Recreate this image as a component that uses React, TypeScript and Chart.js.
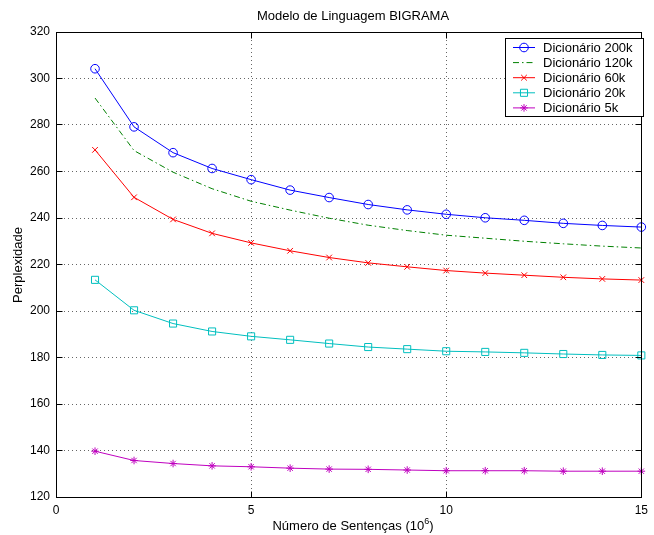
import React, { useEffect, useRef } from 'react';
import { Chart, registerables } from 'chart.js';

Chart.register(...registerables);

// ---- data ----
const sentences = [1, 2, 3, 4, 5, 6, 7, 8, 9, 10, 11, 12, 13, 14, 15];
const ppl200k = [304.2, 279.2, 268.1, 261.3, 256.5, 252.0, 248.8, 245.8, 243.5, 241.6, 240.1, 239.0, 237.7, 236.8, 236.1];
const ppl120k = [291.6, 269.0, 259.7, 252.6, 247.2, 243.4, 239.9, 236.9, 234.6, 232.6, 231.3, 230.0, 228.9, 227.9, 227.1];
const ppl60k = [269.3, 248.9, 239.4, 233.4, 229.3, 225.9, 223.0, 220.7, 219.0, 217.4, 216.3, 215.4, 214.5, 213.8, 213.3];
const ppl20k = [213.4, 200.3, 194.6, 191.2, 189.1, 187.6, 186.0, 184.5, 183.6, 182.7, 182.4, 182.0, 181.5, 181.1, 180.9];
const ppl5k = [139.7, 135.7, 134.4, 133.4, 133.0, 132.4, 132.0, 131.9, 131.6, 131.3, 131.3, 131.3, 131.1, 131.1, 131.1];
const seriesLabels = ['Dicionário 200k', 'Dicionário 120k', 'Dicionário 60k', 'Dicionário 20k', 'Dicionário 5k'];
const xTicks = [0, 5, 10, 15];
const yTicks = [120, 140, 160, 180, 200, 220, 240, 260, 280, 300, 320];
const titleText = 'Modelo de Linguagem BIGRAMA';
const xLabelMain = 'Número de Sentenças (10';
const xLabelSup = '6';
const xLabelEnd = ')';
const yLabelText = 'Perplexidade';

// ---- styles ----
const FONT = '"Liberation Sans", Arial, Helvetica, sans-serif';
const seriesValues = [ppl200k, ppl120k, ppl60k, ppl20k, ppl5k];
const seriesStyles = [
  { color: '#0000ff', dash: [] as number[], marker: 'circle', radius: 4.3 },
  { color: '#008000', dash: [6, 3, 1.5, 3], marker: '', radius: 0 },
  { color: '#ff0000', dash: [] as number[], marker: 'crossRot', radius: 4 },
  { color: '#00bfbf', dash: [] as number[], marker: 'rect', radius: 5 },
  { color: '#bf00bf', dash: [] as number[], marker: 'star', radius: 3.8 },
];

function drawMarker(ctx: CanvasRenderingContext2D, style: string, x: number, y: number, r: number) {
  ctx.beginPath();
  if (style === 'circle') {
    ctx.arc(x, y, r, 0, Math.PI * 2);
  } else if (style === 'rect') {
    const s = Math.SQRT1_2 * r;
    ctx.rect(x - s, y - s, 2 * s, 2 * s);
  } else if (style === 'crossRot') {
    const o = Math.SQRT1_2 * r;
    ctx.moveTo(x - o, y - o); ctx.lineTo(x + o, y + o);
    ctx.moveTo(x - o, y + o); ctx.lineTo(x + o, y - o);
  } else if (style === 'star') {
    const o = Math.SQRT1_2 * r;
    ctx.moveTo(x - r, y); ctx.lineTo(x + r, y);
    ctx.moveTo(x, y - r); ctx.lineTo(x, y + r);
    ctx.moveTo(x - o, y - o); ctx.lineTo(x + o, y + o);
    ctx.moveTo(x - o, y + o); ctx.lineTo(x + o, y - o);
  }
  ctx.stroke();
}

const decorPlugin = {
  id: 'matlabDecor',
  afterDraw(chart: any) {
    const { ctx, chartArea: a, scales } = chart;
    const al = (v: number) => Math.round(v - 0.5) + 0.5;
    const L = al(a.left), R = al(a.right), T = al(a.top), B = al(a.bottom);
    ctx.save();
    ctx.setLineDash([]);
    ctx.strokeStyle = '#000';
    ctx.lineWidth = 1;
    // box
    ctx.strokeRect(L, T, R - L, B - T);
    // inward ticks
    const tl = 6;
    ctx.beginPath();
    xTicks.forEach((v) => {
      const px = al(scales.x.getPixelForValue(v));
      ctx.moveTo(px, B); ctx.lineTo(px, B - tl);
      ctx.moveTo(px, T); ctx.lineTo(px, T + tl);
    });
    yTicks.forEach((v) => {
      const py = al(scales.y.getPixelForValue(v));
      ctx.moveTo(L, py); ctx.lineTo(L + tl, py);
      ctx.moveTo(R, py); ctx.lineTo(R - tl, py);
    });
    ctx.stroke();

    ctx.fillStyle = '#000';
    // title
    ctx.font = `13px ${FONT}`;
    ctx.textAlign = 'center';
    ctx.textBaseline = 'alphabetic';
    ctx.fillText(titleText, 353, 20);

    // x label with superscript
    ctx.textAlign = 'left';
    const mainFont = `13px ${FONT}`;
    const supFont = `9px ${FONT}`;
    ctx.font = mainFont;
    const w1 = ctx.measureText(xLabelMain).width;
    const w3 = ctx.measureText(xLabelEnd).width;
    ctx.font = supFont;
    const w2 = ctx.measureText(xLabelSup).width;
    const total = w1 + w2 + w3;
    let xs = 353 - total / 2;
    const baseY = 530;
    ctx.font = mainFont;
    ctx.fillText(xLabelMain, xs, baseY);
    xs += w1;
    ctx.font = supFont;
    ctx.fillText(xLabelSup, xs, baseY - 6);
    xs += w2;
    ctx.font = mainFont;
    ctx.fillText(xLabelEnd, xs, baseY);

    // y label
    ctx.save();
    ctx.translate(22, 265);
    ctx.rotate(-Math.PI / 2);
    ctx.textAlign = 'center';
    ctx.font = mainFont;
    ctx.fillText(yLabelText, 0, 0);
    ctx.restore();

    // legend
    const bx = 505.5, by = 38.5, bw = 138, bh = 78;
    ctx.fillStyle = '#fff';
    ctx.fillRect(bx, by, bw, bh);
    ctx.strokeStyle = '#000';
    ctx.setLineDash([]);
    ctx.strokeRect(bx, by, bw, bh);
    chart.data.datasets.forEach((ds: any, i: number) => {
      const st = seriesStyles[i];
      const y = 47.5 + i * 15.1;
      ctx.strokeStyle = st.color;
      ctx.lineWidth = 1;
      ctx.setLineDash(st.dash);
      ctx.beginPath();
      ctx.moveTo(513, y); ctx.lineTo(535, y);
      ctx.stroke();
      ctx.setLineDash([]);
      if (st.marker) drawMarker(ctx, st.marker, 524, y, st.radius);
      ctx.fillStyle = '#000';
      ctx.font = `13px ${FONT}`;
      ctx.textAlign = 'left';
      ctx.textBaseline = 'middle';
      ctx.fillText(ds.label, 543, y + 0.5);
    });
    ctx.restore();
  },
};

export default function App() {
  const canvasRef = useRef<HTMLCanvasElement | null>(null);

  useEffect(() => {
    const canvas = canvasRef.current;
    if (!canvas) return;
    const chart = new Chart(canvas, {
      type: 'line',
      data: {
        datasets: seriesValues.map((vals, i) => {
          const st = seriesStyles[i];
          return {
            label: seriesLabels[i],
            data: sentences.map((x, j) => ({ x, y: vals[j] })),
            borderColor: st.color,
            backgroundColor: st.color,
            borderWidth: 1,
            borderDash: st.dash,
            pointStyle: st.marker ? (st.marker as any) : false,
            pointRadius: st.radius,
            pointBorderColor: st.color,
            pointBackgroundColor: 'rgba(0,0,0,0)',
            pointBorderWidth: 1,
            tension: 0,
            fill: false,
            clip: false as any,
          };
        }),
      },
      options: {
        responsive: false,
        animation: false,
        devicePixelRatio: 1,
        events: [],
        layout: { padding: { top: 32, right: 8, bottom: 0, left: 0 } },
        plugins: {
          legend: { display: false },
          title: { display: false },
          tooltip: { enabled: false },
        },
        scales: {
          x: {
            type: 'linear',
            min: 0,
            max: 15,
            afterBuildTicks: (s: any) => { s.ticks = xTicks.map((v) => ({ value: v })); },
            afterFit: (s: any) => { s.height = 38; },
            grid: { color: 'rgba(0,0,0,0.6)', lineWidth: 1, drawTicks: false },
            border: { display: false, dash: [1, 3] },
            ticks: { color: '#000', font: { family: FONT, size: 12 }, padding: 6, maxRotation: 0, autoSkip: false },
          },
          y: {
            type: 'linear',
            min: 120,
            max: 320,
            afterBuildTicks: (s: any) => { s.ticks = yTicks.map((v) => ({ value: v })); },
            afterFit: (s: any) => { s.width = 56; },
            grid: { color: 'rgba(0,0,0,0.6)', lineWidth: 1, drawTicks: false },
            border: { display: false, dash: [1, 3] },
            ticks: { color: '#000', font: { family: FONT, size: 12 }, padding: 6, autoSkip: false },
          },
        },
      },
      plugins: [decorPlugin],
    });
    return () => chart.destroy();
  }, []);

  return (
    <div style={{ position: 'fixed', left: 0, top: 0, width: 654, height: 535, background: '#fff' }}>
      <canvas ref={canvasRef} width={654} height={535} style={{ display: 'block', width: 654, height: 535 }} />
    </div>
  );
}
